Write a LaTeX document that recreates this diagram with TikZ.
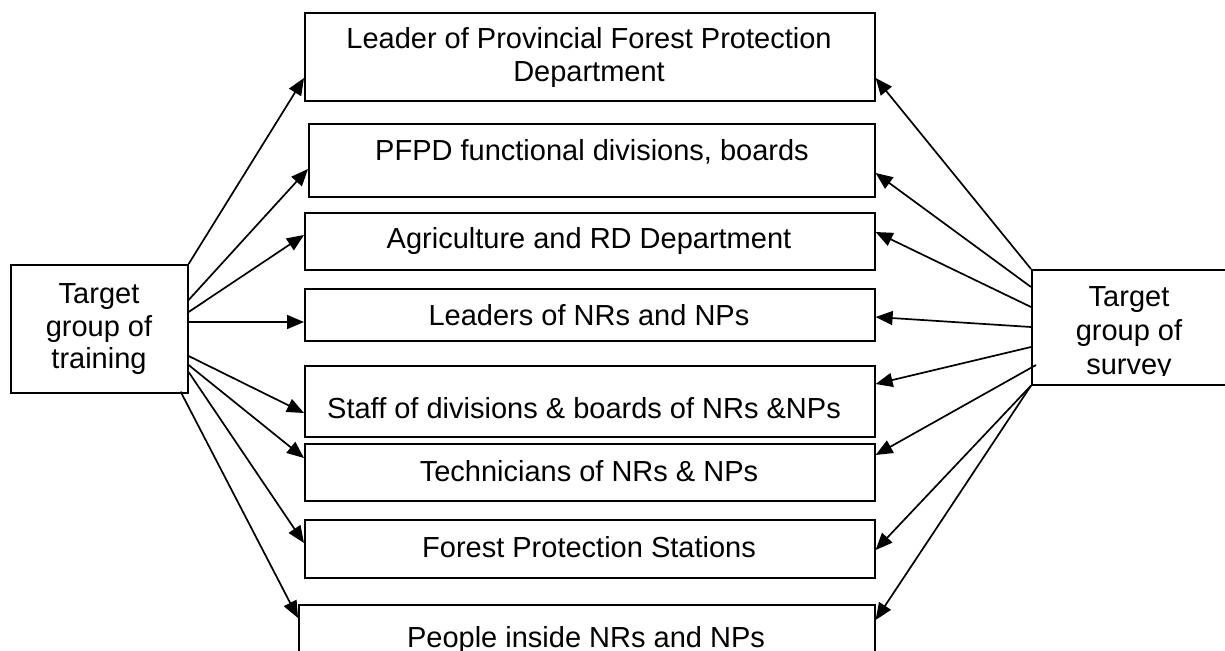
\documentclass[tikz,border=0pt]{standalone}
\usepackage{fontspec}
\setmainfont{Liberation Sans}
\usetikzlibrary{arrows.meta,calc}
\begin{document}
\begin{tikzpicture}[x=1pt,y=-1pt,
  box/.style={draw, line width=1.6pt, inner sep=0pt, anchor=north west},
  lbl/.style={anchor=base, inner sep=0pt, font=\fontsize{29}{33}\selectfont},
  conn/.style={line width=1.7pt, -{Triangle[length=17pt,width=14pt]}}]
\useasboundingbox (0,0) rectangle (1225,650);
\clip (0,0) rectangle (1225,650);

% target boxes
\node[box, minimum width=570pt, minimum height=88pt] (b1) at (304,12) {};
\node[box, minimum width=566pt, minimum height=73pt] (b2) at (308,123) {};
\node[box, minimum width=570pt, minimum height=57pt] (b3) at (304,212) {};
\node[box, minimum width=570pt, minimum height=52pt] (b4) at (304,288) {};
\node[box, minimum width=570pt, minimum height=71pt] (b5) at (304,365) {};
\node[box, minimum width=570pt, minimum height=57pt] (b6) at (304,443) {};
\node[box, minimum width=570pt, minimum height=58pt] (b7) at (304,519) {};
\node[box, minimum width=576pt, minimum height=70pt] (b8) at (298,604) {};

% source boxes
\node[box, minimum width=177pt, minimum height=128pt] (train) at (10,264) {};
\node[box, minimum width=220pt, minimum height=115pt] (survey) at (1031,269) {};

% box texts
\node[lbl] (t1a) at (589,49) {Leader of Provincial Forest Protection};
\node[lbl] (t1b) at (589,82) {Department};
\node[lbl] (t2) at (592,160) {PFPD functional divisions, boards};
\node[lbl] (t3) at (589,248) {Agriculture and RD Department};
\node[lbl] (t4) at (589,325) {Leaders of NRs and NPs};
\node[lbl] (t5) at (584,418) {Staff of divisions \& boards of NRs \&NPs};
\node[lbl] (t6) at (589,481) {Technicians of NRs \& NPs};
\node[lbl] (t7) at (589,557) {Forest Protection Stations};
\node[lbl] (t8) at (586,647) {People inside NRs and NPs};

\node[lbl] (la) at (99,303) {Target};
\node[lbl] (lb) at (99,336) {group of};
\node[lbl] (lc) at (99,368) {training};

\node[lbl] (ra) at (1129,306) {Target};
\node[lbl] (rb) at (1129,340) {group of};
\begin{scope}
  \clip (1031,350) rectangle (1225,375);
  \node[lbl] (rc) at (1129,374) {survey};
\end{scope}

% training connectors
\draw[conn] (train.north east) -- (b1.west |- 0,78);
\draw[conn] (train.east |- 0,300) -- (b2.west |- 0,169);
\draw[conn] (train.east |- 0,312) -- (b3.west |- 0,235);
\draw[conn] (train.east |- 0,322) -- (b4.west |- 0,322);
\draw[conn] (train.east |- 0,356) -- (b5.west |- 0,413);
\draw[conn] (train.east |- 0,365) -- (b6.west |- 0,458);
\draw[conn] (train.east |- 0,372) -- (b7.west |- 0,543);
\draw[conn] ($(train.south east)+(-8,-2)$) -- (b8.west |- 0,618);

% survey connectors
\draw[conn] (survey.north west) -- (b1.east |- 0,78);
\draw[conn] (survey.west |- 0,287) -- (b2.east |- 0,173);
\draw[conn] (survey.west |- 0,307) -- (b3.east |- 0,232);
\draw[conn] (survey.west |- 0,327) -- (b4.east |- 0,317);
\draw[conn] (survey.west |- 0,347) -- (b5.east |- 0,384);
\draw[conn] ($(survey.west |- 0,365)+(5,0)$) -- (b6.east |- 0,455);
\draw[conn] (survey.south west) -- (b7.east |- 0,550);
\draw[conn] (survey.south west) -- (b8.east |- 0,620);
\end{tikzpicture}
\end{document}
